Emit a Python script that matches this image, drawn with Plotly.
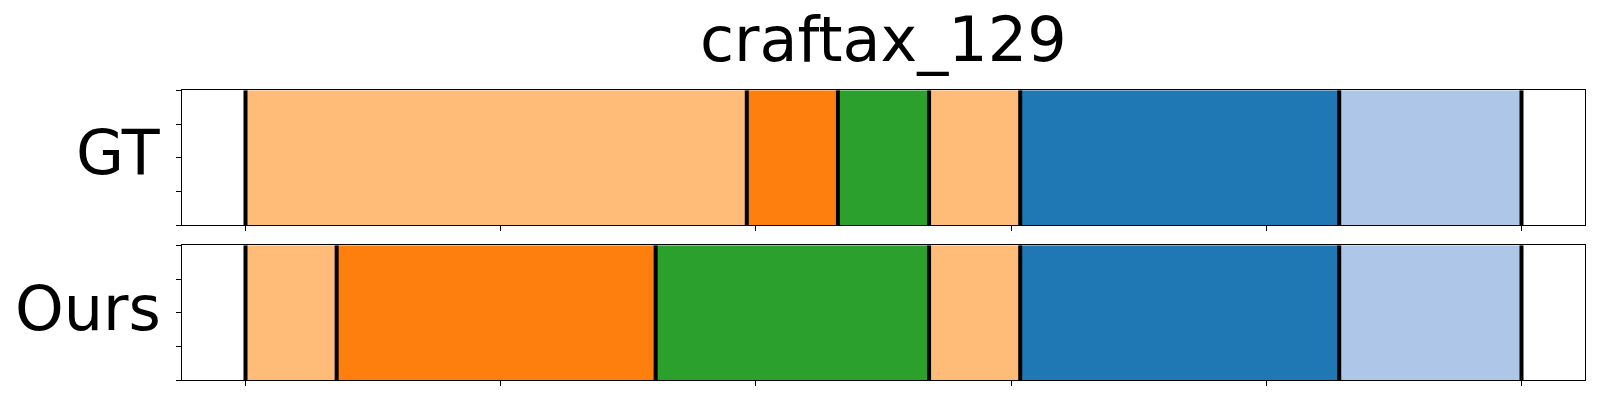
import plotly.graph_objects as go

# ---- data ----
title_text = "craftax_129"
row_labels = ["GT", "Ours"]
total_frames = 28
gt_bounds = [0, 11, 13, 15, 17, 24, 28]
gt_classes = ["c1", "c2", "c3", "c1", "c4", "c5"]
ours_bounds = [0, 2, 9, 15, 17, 24, 28]
ours_classes = ["c1", "c2", "c3", "c1", "c4", "c5"]
class_colors = {"c1": "#ffbb78", "c2": "#ff7f0e", "c3": "#2ca02c",
                "c4": "#1f77b4", "c5": "#aec7e8"}
x_ticks = [0, 0.2, 0.4, 0.6, 0.8, 1.0]
y_ticks = [0, 0.25, 0.5, 0.75, 1.0]

W, H = 1600, 400
FONT = "DejaVu Sans"

fig = go.Figure()

rows = [(gt_bounds, gt_classes, "x", "y"), (ours_bounds, ours_classes, "x2", "y2")]
for bounds, classes, xa, ya in rows:
    nb = [b / total_frames for b in bounds]
    starts = nb[:-1]
    lengths = [nb[i + 1] - nb[i] for i in range(len(nb) - 1)]
    fig.add_trace(go.Bar(
        orientation="h", y=[0.5] * len(starts), x=lengths, base=starts,
        width=1.0, marker=dict(color=[class_colors[c] for c in classes], line=dict(width=0)),
        xaxis=xa, yaxis=ya, showlegend=False, hoverinfo="skip"))
    lx, ly = [], []
    for b in nb:
        lx += [b, b, None]
        ly += [0, 1, None]
    fig.add_trace(go.Scatter(x=lx, y=ly, mode="lines", line=dict(color="black", width=4),
                             xaxis=xa, yaxis=ya, showlegend=False, hoverinfo="skip"))

xd = [181.7 / W, 1585.3 / W]
top_dom = [(H - 225.3) / H, (H - 90.3) / H]
bot_dom = [(H - 380.3) / H, (H - 245.3) / H]

ax_common = dict(showline=True, linecolor="black", linewidth=1, mirror=True,
                 ticks="outside", ticklen=5, tickwidth=1, tickcolor="black",
                 showticklabels=False, showgrid=False, zeroline=False)

fig.update_layout(
    width=W, height=H, margin=dict(l=0, r=0, t=0, b=0),
    paper_bgcolor="white", plot_bgcolor="white", barmode="overlay",
    font=dict(family=FONT, color="black"),
    xaxis=dict(domain=xd, range=[-0.05, 1.05], tickvals=x_ticks, anchor="y", **ax_common),
    yaxis=dict(domain=top_dom, range=[0, 1], tickvals=y_ticks, anchor="x", **ax_common),
    xaxis2=dict(domain=xd, range=[-0.05, 1.05], tickvals=x_ticks, anchor="y2", **ax_common),
    yaxis2=dict(domain=bot_dom, range=[0, 1], tickvals=y_ticks, anchor="x2", **ax_common),
)

annotations = [
    dict(text=title_text, x=(xd[0] + xd[1]) / 2, y=(H - 39) / H, xref="paper", yref="paper",
         xanchor="center", yanchor="middle", showarrow=False, font=dict(size=62, family=FONT)),
    dict(text=row_labels[0], x=163 / W, y=(H - 152.5) / H, xref="paper", yref="paper",
         xanchor="right", yanchor="middle", showarrow=False, font=dict(size=62, family=FONT)),
    dict(text=row_labels[1], x=163 / W, y=(H - 308) / H, xref="paper", yref="paper",
         xanchor="right", yanchor="middle", showarrow=False, font=dict(size=62, family=FONT)),
]
fig.update_layout(annotations=annotations)

fig.write_html("out.html", config={"displayModeBar": False},
               post_script="document.body.style.margin='0';document.body.style.overflow='hidden';")
